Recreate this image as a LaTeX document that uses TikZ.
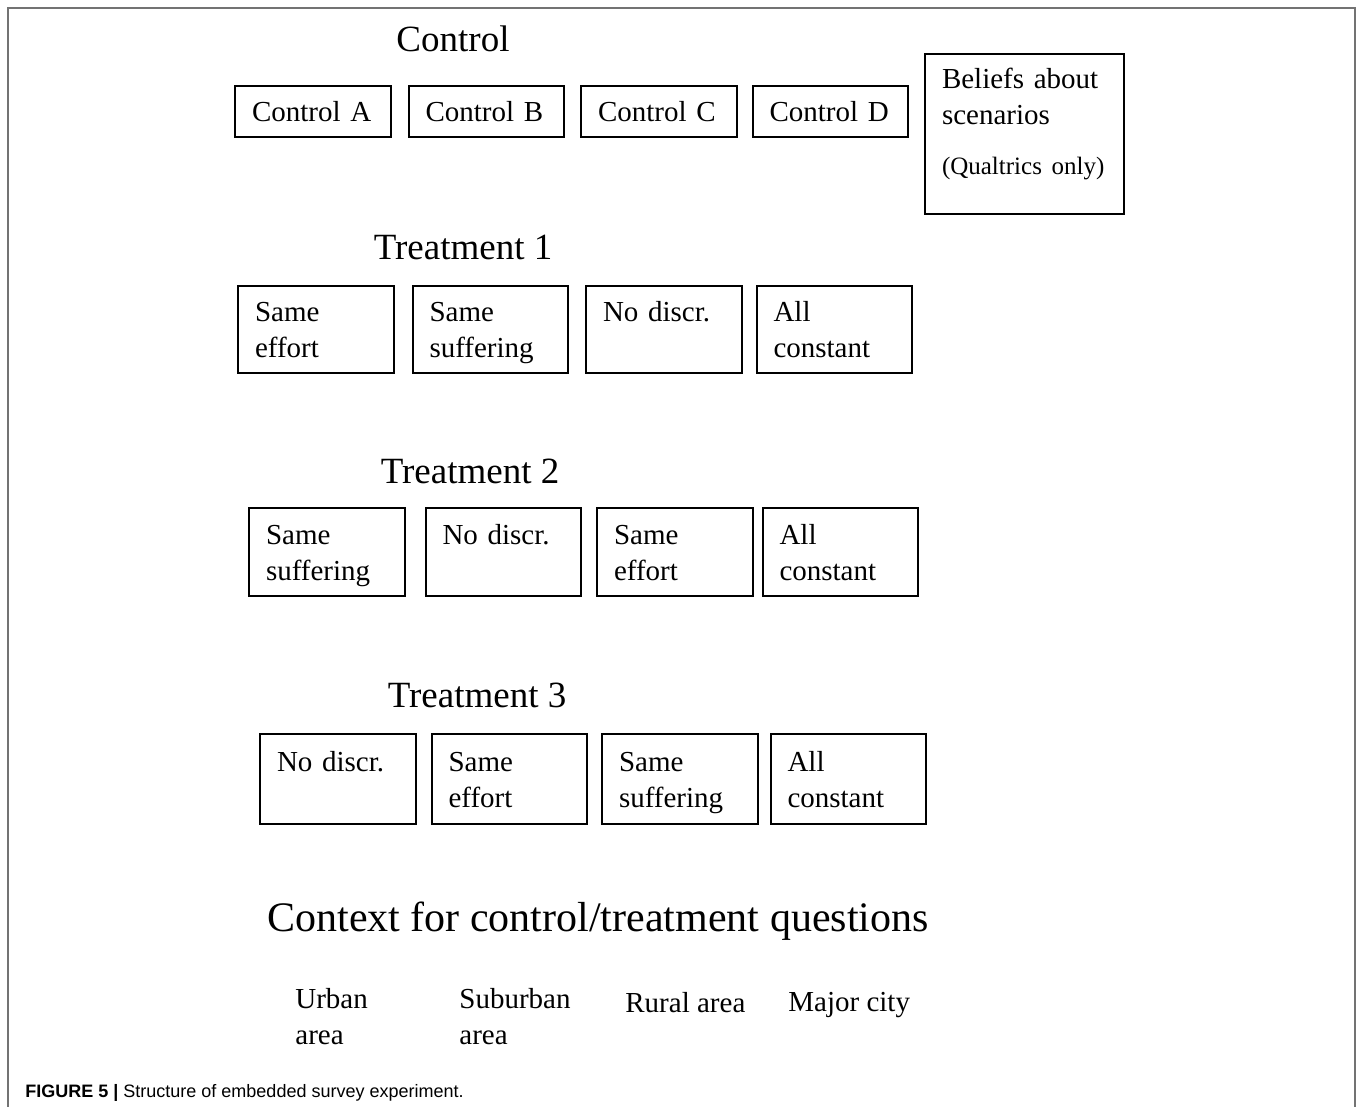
\documentclass[tikz,border=0pt]{standalone}
\usepackage{fontspec}
\setmainfont{Liberation Serif}
\newfontfamily\capfont{Liberation Sans}
\usetikzlibrary{positioning}

\begin{document}
\begin{tikzpicture}
    [x=0.5pt,y=-0.5pt,
    heading/.style={anchor=base,inner sep=0pt,font=\fontsize{18.5}{22}\selectfont},
    cell/.style={draw,line width=1pt,anchor=north west,inner xsep=8.5pt,
    text width=60.75pt,align=left,font=\fontsize{14.5}{18}\selectfont},
    option/.style={cell,inner ysep=2pt,minimum height=43.5pt,
    execute at begin node=\rule{0pt}{15.6pt},execute at end node=\strut},
    control/.style={cell,minimum height=25.5pt},
    area/.style={anchor=north west,inner sep=0pt,align=left,
    font=\fontsize{14.5}{18}\selectfont}]
    \useasboundingbox (0,0) rectangle (1357,1107);
    \draw[black!55,line width=0.8pt] (8,1107) -- (8,8) -- (1355,8) -- (1355,1107);

    % control block
    \node[heading] (control) at (453,52) {Control};
    \node[control] (control a) at (234,85) {Control A};
    \node[control,right=8pt of control a] (control b) {Control B};
    \node[control,right=7.5pt of control b] (control c) {Control C};
    \node[control,right=7pt of control c] (control d) {Control D};
    \node[cell,text width=82.5pt,minimum height=80pt] (beliefs) at (924,53)
        {Beliefs about\\scenarios\\[7pt]{\fontsize{12.5}{15}\selectfont (Qualtrics only)}\rule[-13pt]{0pt}{1pt}};

    % treatment 1
    \node[heading] (treatment 1) at (463,260) {Treatment 1};
    \node[option] (t1 effort) at (237,285) {Same\\effort};
    \node[option,right=8.5pt of t1 effort] (t1 suffering) {Same\\suffering};
    \node[option,right=8pt of t1 suffering] (t1 nodiscr) {No discr.\\\mbox{}};
    \node[option,right=6.5pt of t1 nodiscr] (t1 constant) {All\\constant};

    % treatment 2
    \node[heading] (treatment 2) at (470,484) {Treatment 2};
    \node[option,minimum height=44pt] (t2 suffering) at (248,507) {Same\\suffering};
    \node[option,minimum height=44pt,right=9.5pt of t2 suffering] (t2 nodiscr) {No discr.\\\mbox{}};
    \node[option,minimum height=44pt,right=7pt of t2 nodiscr] (t2 effort) {Same\\effort};
    \node[option,minimum height=44pt,right=4pt of t2 effort] (t2 constant) {All\\constant};

    % treatment 3
    \node[heading] (treatment 3) at (477,707) {Treatment 3};
    \node[option,minimum height=45pt] (t3 nodiscr) at (259,733) {No discr.\\\mbox{}};
    \node[option,minimum height=45pt,right=7pt of t3 nodiscr] (t3 effort) {Same\\effort};
    \node[option,minimum height=45pt,right=6.5pt of t3 effort] (t3 suffering) {Same\\suffering};
    \node[option,minimum height=45pt,right=5.5pt of t3 suffering] (t3 constant) {All\\constant};

    % context
    \node[heading,font=\fontsize{21}{25}\selectfont] (context) at (598,931)
        {Context for control/treatment questions};
    \node[area] (urban) at (295,988) {Urban\\area};
    \node[area] (suburban) at (459,988) {Suburban\\area};
    \node[area] (rural) at (625,992) {Rural area};
    \node[area] (city) at (788,992) {Major city};

    \node[anchor=base west,inner sep=0pt,font=\capfont\fontsize{9}{11}\selectfont]
        (caption) at (25,1097) {\textbf{FIGURE 5 |} Structure of embedded survey experiment.};
\end{tikzpicture}
\end{document}
